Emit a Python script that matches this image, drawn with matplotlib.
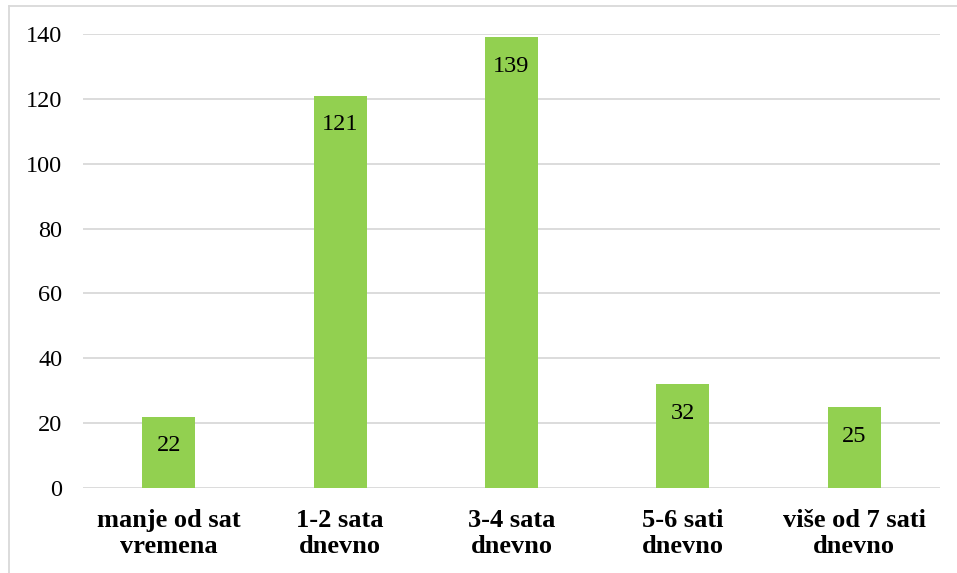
import matplotlib
matplotlib.use("Agg")
import matplotlib.pyplot as plt
from matplotlib.lines import Line2D

categories = ["manje od sat\nvremena", "1-2 sata\ndnevno", "3-4 sata\ndnevno",
              "5-6 sati\ndnevno", "više od 7 sati\ndnevno"]
values = [22, 121, 139, 32, 25]
yticks = [0, 20, 40, 60, 80, 100, 120, 140]

plt.rcParams["font.family"] = ["Liberation Serif", "DejaVu Serif"]

fig = plt.figure(figsize=(9.57, 5.73), dpi=100)
ax = fig.add_axes([83 / 957, 85 / 573, 857 / 957, 454 / 573])

x = range(len(categories))
bars = ax.bar(x, values, width=0.31, color="#92D050", zorder=3)

for rect, v in zip(bars, values):
    ax.annotate(str(v), (rect.get_x() + rect.get_width() / 2, v),
                xytext=(0, -13.5), textcoords="offset points",
                ha="center", va="top", fontsize=17.5, color="black", zorder=4)

ax.set_xlim(-0.5, len(categories) - 0.5)
ax.set_ylim(0, 140)
ax.set_yticks(yticks)
ax.set_yticklabels([str(t) for t in yticks], fontsize=17.5)
ax.set_xticks(list(x))
ax.set_xticklabels(categories, fontsize=19, fontweight="bold", linespacing=1.2)
ax.tick_params(axis="both", length=0)
ax.tick_params(axis="y", pad=15)
ax.tick_params(axis="x", pad=15)
ax.grid(axis="y", color="#D9D9D9", linewidth=1.3, zorder=0)
for s in ax.spines.values():
    s.set_visible(False)

# outer chart border (top and left visible in the crop)
fig.add_artist(Line2D([8.5 / 957, 1.0], [1 - 5.5 / 573, 1 - 5.5 / 573],
                      transform=fig.transFigure, color="#D9D9D9", linewidth=1.3))
fig.add_artist(Line2D([8.5 / 957, 8.5 / 957], [0, 1 - 5.5 / 573],
                      transform=fig.transFigure, color="#D9D9D9", linewidth=1.3))

fig.savefig("out.png", dpi=100)
